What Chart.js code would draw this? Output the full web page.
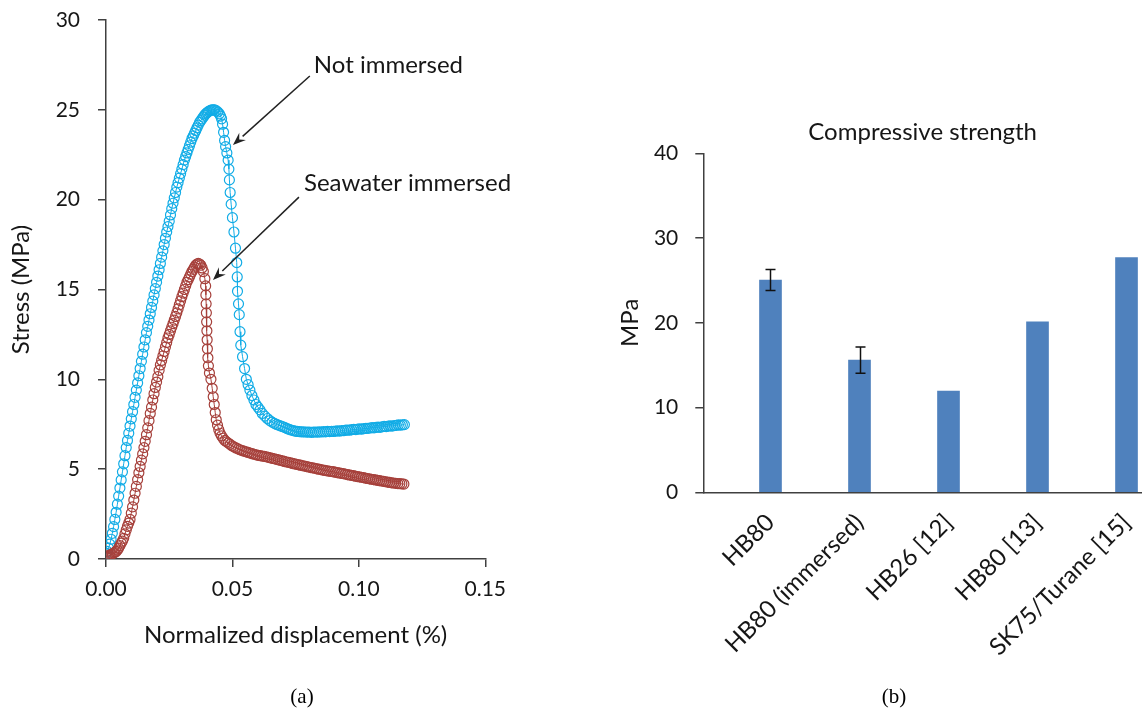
<!DOCTYPE html>
<html>
<head>
<meta charset="utf-8">
<script src="https://cdn.jsdelivr.net/npm/chart.js@4.4.1/dist/chart.umd.min.js"></script>
<style>
  html, body { margin: 0; padding: 0; background: #ffffff; width: 1142px; height: 711px; overflow: hidden; }
  .box { position: absolute; top: 0; }
  .cap { position: absolute; font-family: "Liberation Serif", "Times New Roman", serif; font-size: 21px; color: #000; transform: translate(-50%, -50%); white-space: nowrap; }
</style>
</head>
<body>
<div class="box" style="left:0px;width:560px;height:711px;"><canvas id="chartA" width="560" height="711"></canvas></div>
<div class="box" style="left:560px;width:582px;height:711px;"><canvas id="chartB" width="582" height="711"></canvas></div>
<div class="cap" style="left:302px;top:696px;">(a)</div>
<div class="cap" style="left:894px;top:696px;">(b)</div>
<script>
// ---------- Panel (a): stress vs normalized displacement ----------
const notImmersed = [
[0.0000,0.30],[0.0005,0.42],[0.0010,0.60],[0.0015,0.83],[0.0020,1.10],[0.0025,1.43],[0.0030,1.80],[0.0035,2.20],[0.0040,2.60],[0.0045,3.05],
[0.0050,3.50],[0.0055,3.95],[0.0060,4.40],[0.0065,4.85],[0.0070,5.30],[0.0075,5.75],[0.0080,6.20],[0.0085,6.60],[0.0090,7.00],[0.0095,7.40],
[0.0100,7.80],[0.0105,8.20],[0.0110,8.60],[0.0115,9.00],[0.0120,9.40],[0.0125,9.80],[0.0130,10.20],[0.0135,10.60],[0.0140,11.00],[0.0145,11.40],
[0.0150,11.80],[0.0155,12.20],[0.0160,12.60],[0.0165,12.95],[0.0170,13.30],[0.0175,13.65],[0.0180,14.00],[0.0185,14.35],[0.0190,14.70],[0.0195,15.05],
[0.0200,15.40],[0.0205,15.75],[0.0210,16.10],[0.0215,16.45],[0.0220,16.80],[0.0225,17.15],[0.0230,17.50],[0.0235,17.85],[0.0240,18.20],[0.0245,18.50],
[0.0250,18.80],[0.0255,19.15],[0.0260,19.50],[0.0265,19.80],[0.0270,20.10],[0.0275,20.40],[0.0280,20.70],[0.0285,20.95],[0.0290,21.20],[0.0295,21.45],
[0.0300,21.70],[0.0305,21.95],[0.0310,22.20],[0.0315,22.40],[0.0320,22.60],[0.0325,22.80],[0.0330,23.00],[0.0335,23.20],[0.0340,23.40],[0.0345,23.55],
[0.0350,23.70],[0.0355,23.85],[0.0360,24.00],[0.0365,24.15],[0.0370,24.30],[0.0375,24.40],[0.0380,24.50],[0.0385,24.60],[0.0390,24.70],[0.0395,24.78],
[0.0400,24.85],[0.0405,24.90],[0.0410,24.95],[0.0415,24.98],[0.0420,25.00],[0.0425,25.00],
[0.0430,25.00],[0.0436,24.95],[0.0442,24.88],[0.0448,24.78],[0.0453,24.65],[0.0457,24.50],[0.0461,24.20],[0.0465,23.75],[0.0469,23.30],[0.0473,22.95],
[0.0478,22.60],[0.0483,22.20],[0.0486,21.70],[0.0488,21.10],[0.0491,20.40],[0.0495,19.75],[0.0500,19.00],[0.0506,18.20],[0.0512,17.30],[0.0517,16.50],
[0.0519,15.70],[0.0520,14.90],[0.0524,14.20],[0.0527,13.60],[0.0530,12.65],[0.0533,11.90],[0.0540,11.26],[0.0548,10.60],[0.0555,10.00],[0.0562,9.70],
[0.0569,9.40],[0.0577,9.10],[0.0585,8.85],[0.0593,8.60],[0.0601,8.45],[0.0609,8.30],[0.0618,8.10],[0.0628,7.95],[0.0638,7.82],[0.0648,7.70],
[0.0657,7.62],[0.0666,7.55],[0.0675,7.49],[0.0684,7.44],[0.0692,7.40],[0.0700,7.36],[0.0708,7.31],[0.0716,7.26],[0.0724,7.22],[0.0732,7.18],
[0.0740,7.15],[0.0748,7.12],[0.0756,7.10],[0.0764,7.09],[0.0772,7.08],[0.0780,7.08],
[0.0788,7.07],[0.0796,7.06],[0.0804,7.07],[0.0812,7.05],[0.0820,7.06],[0.0828,7.07],[0.0836,7.06],[0.0844,7.08],[0.0852,7.07],[0.0860,7.09],
[0.0868,7.08],[0.0876,7.10],[0.0884,7.09],[0.0892,7.11],[0.0900,7.10],[0.0908,7.12],[0.0916,7.13],[0.0924,7.12],[0.0932,7.15],[0.0940,7.14],
[0.0948,7.17],[0.0956,7.18],[0.0964,7.17],[0.0972,7.20],[0.0980,7.21],[0.0988,7.20],[0.0996,7.23],[0.1004,7.24],[0.1012,7.23],[0.1020,7.26],
[0.1028,7.27],[0.1036,7.27],[0.1044,7.29],[0.1052,7.31],[0.1060,7.30],[0.1068,7.33],[0.1076,7.34],[0.1084,7.33],[0.1092,7.36],[0.1100,7.38],
[0.1108,7.37],[0.1116,7.40],[0.1124,7.41],[0.1132,7.40],[0.1140,7.43],[0.1148,7.44],[0.1156,7.46],[0.1164,7.45],[0.1172,7.47],[0.1180,7.48]
];

const seawaterImmersed = [
[0.0000,0.13],[0.0005,0.15],[0.0010,0.18],[0.0015,0.21],[0.0020,0.25],[0.0025,0.29],[0.0030,0.33],[0.0035,0.37],[0.0040,0.42],[0.0045,0.50],
[0.0050,0.60],[0.0055,0.75],[0.0060,0.88],[0.0065,1.00],[0.0070,1.15],[0.0075,1.40],[0.0080,1.62],[0.0085,1.82],[0.0090,2.00],[0.0095,2.20],
[0.0100,2.55],[0.0105,2.90],[0.0110,3.28],[0.0115,3.66],[0.0120,4.04],[0.0125,4.42],[0.0130,4.80],[0.0135,5.15],[0.0140,5.50],[0.0145,5.85],
[0.0150,6.20],[0.0155,6.55],[0.0160,6.92],[0.0165,7.30],[0.0170,7.70],[0.0175,8.10],[0.0180,8.45],[0.0185,8.85],[0.0190,9.20],[0.0195,9.55],
[0.0200,9.85],[0.0205,10.15],[0.0210,10.50],[0.0215,10.80],[0.0220,11.05],[0.0225,11.30],[0.0230,11.55],[0.0235,11.80],[0.0240,12.05],[0.0245,12.30],
[0.0250,12.50],[0.0255,12.70],[0.0260,12.90],[0.0265,13.10],[0.0270,13.30],[0.0275,13.50],[0.0280,13.70],[0.0285,13.92],[0.0290,14.15],[0.0295,14.37],
[0.0300,14.60],[0.0305,14.80],[0.0310,15.00],[0.0315,15.20],[0.0320,15.40],[0.0325,15.55],[0.0330,15.70],[0.0335,15.85],[0.0340,16.00],[0.0345,16.12],
[0.0350,16.24],[0.0355,16.35],[0.0360,16.42],[0.0365,16.45],[0.0370,16.42],[0.0375,16.35],[0.0380,16.20],[0.0385,16.00],
[0.0391,15.60],[0.0394,15.20],[0.0395,14.70],[0.0396,14.20],[0.0397,13.70],[0.0398,13.20],[0.0399,12.70],[0.0400,12.20],[0.0401,11.70],[0.0403,11.20],
[0.0405,10.75],[0.0409,10.35],[0.0415,10.00],[0.0420,9.50],[0.0424,9.03],[0.0428,8.60],[0.0432,8.15],[0.0436,7.75],[0.0441,7.45],[0.0446,7.20],
[0.0451,7.00],[0.0457,6.85],[0.0463,6.72],[0.0470,6.60],[0.0477,6.52],[0.0484,6.45],[0.0491,6.38],[0.0498,6.30],
[0.0506,6.24],[0.0514,6.18],[0.0522,6.13],[0.0530,6.08],[0.0538,6.04],[0.0546,6.00],[0.0554,5.97],[0.0562,5.93],[0.0570,5.90],[0.0578,5.86],
[0.0586,5.83],[0.0594,5.80],[0.0602,5.77],[0.0610,5.75],[0.0618,5.73],[0.0626,5.71],[0.0634,5.69],[0.0642,5.66],[0.0650,5.63],[0.0658,5.60],
[0.0666,5.58],[0.0674,5.55],[0.0682,5.52],[0.0690,5.49],[0.0698,5.46],[0.0706,5.43],[0.0714,5.40],[0.0722,5.38],[0.0730,5.35],[0.0738,5.32],
[0.0746,5.29],[0.0754,5.27],[0.0762,5.24],[0.0770,5.22],[0.0778,5.19],[0.0786,5.17],[0.0794,5.14],[0.0802,5.12],[0.0810,5.09],[0.0818,5.07],
[0.0826,5.05],[0.0834,5.02],[0.0842,5.00],[0.0850,4.98],[0.0858,4.95],[0.0866,4.93],[0.0874,4.91],[0.0882,4.89],[0.0890,4.87],[0.0898,4.86],
[0.0906,4.83],[0.0914,4.81],[0.0922,4.79],[0.0930,4.77],[0.0938,4.75],[0.0946,4.73],[0.0954,4.70],[0.0962,4.68],[0.0970,4.66],[0.0978,4.64],
[0.0986,4.61],[0.0994,4.59],[0.1002,4.57],[0.1010,4.55],[0.1018,4.53],[0.1026,4.50],[0.1034,4.48],[0.1042,4.46],[0.1050,4.44],[0.1058,4.42],
[0.1066,4.40],[0.1074,4.38],[0.1082,4.36],[0.1090,4.34],[0.1098,4.32],[0.1106,4.30],[0.1114,4.28],[0.1122,4.26],[0.1130,4.24],[0.1138,4.23],
[0.1146,4.21],[0.1154,4.20],[0.1162,4.19],[0.1170,4.18],[0.1178,4.17]
];

// annotations in data coordinates
const annotationLabels = ["Not immersed", "Seawater immersed"];
const annotationText = [[0.0822, 27.49], [0.0783, 20.92]];
const annotationArrows = [[0.0806, 26.88, 0.0502, 23.04], [0.0763, 20.14, 0.0423, 15.53]];

// ---------- Panel (b): compressive strength ----------
const categories = ["HB80", "HB80 (immersed)", "HB26 [12]", "HB80 [13]", "SK75/Turane [15]"];
const strength = [25.05, 15.6, 11.95, 20.1, 27.7];
const strengthError = [1.25, 1.55, 0, 0, 0];

const TXT = '#161616';
const AXIS = '#404040';
const BLUE = '#12ACE6';
const RED = '#A6403B';
Chart.defaults.font.family = 'Lato, "Open Sans", sans-serif';
Chart.defaults.color = TXT;

const annotationPlugin = {
  id: 'annots',
  afterDraw(chart) {
    const ctx = chart.ctx, xs = chart.scales.x, ys = chart.scales.y;
    ctx.save();
    ctx.font = '24px Lato';
    ctx.fillStyle = TXT;
    ctx.textAlign = 'left';
    ctx.textBaseline = 'middle';
    annotationLabels.forEach((lab, i) => {
      ctx.fillText(lab, xs.getPixelForValue(annotationText[i][0]), ys.getPixelForValue(annotationText[i][1]));
      const a = annotationArrows[i];
      const x1 = xs.getPixelForValue(a[0]), y1 = ys.getPixelForValue(a[1]);
      const x2 = xs.getPixelForValue(a[2]), y2 = ys.getPixelForValue(a[3]);
      const ang = Math.atan2(y2 - y1, x2 - x1);
      const hl = 13, hw = 5;
      const bx = x2 - hl * Math.cos(ang), by = y2 - hl * Math.sin(ang);
      ctx.strokeStyle = '#222';
      ctx.lineWidth = 1.5;
      ctx.beginPath(); ctx.moveTo(x1, y1); ctx.lineTo(bx, by); ctx.stroke();
      ctx.fillStyle = '#222';
      ctx.beginPath();
      ctx.moveTo(x2, y2);
      ctx.lineTo(bx + hw * Math.sin(ang), by - hw * Math.cos(ang));
      ctx.lineTo(bx + 0.35 * hl * Math.cos(ang), by + 0.35 * hl * Math.sin(ang));
      ctx.lineTo(bx - hw * Math.sin(ang), by + hw * Math.cos(ang));
      ctx.closePath(); ctx.fill();
      ctx.fillStyle = TXT;
    });
    ctx.restore();
  }
};

new Chart(document.getElementById('chartA'), {
  type: 'scatter',
  data: {
    datasets: [
      { label: 'Seawater immersed', data: seawaterImmersed.map(p => ({x: p[0], y: p[1]})), order: 0,
        showLine: true, borderColor: RED, borderWidth: 1, pointRadius: 5, pointBorderWidth: 1.2,
        pointBorderColor: RED, pointBackgroundColor: 'rgba(0,0,0,0)' },
      { label: 'Not immersed', data: notImmersed.map(p => ({x: p[0], y: p[1]})), order: 1,
        showLine: true, borderColor: BLUE, borderWidth: 1, pointRadius: 5, pointBorderWidth: 1.2,
        pointBorderColor: BLUE, pointBackgroundColor: 'rgba(0,0,0,0)' }
    ]
  },
  options: {
    responsive: false, animation: false,
    layout: { padding: { left: 0, top: 20, right: 74.7, bottom: 52 } },
    plugins: { legend: { display: false }, tooltip: { enabled: false } },
    scales: {
      x: {
        type: 'linear', min: 0, max: 0.15,
        ticks: { stepSize: 0.05, callback: v => v.toFixed(2), font: { size: 21 }, color: TXT, padding: 10, maxRotation: 0 },
        grid: { display: true, drawOnChartArea: false, drawTicks: true, tickLength: 8, color: AXIS, lineWidth: 1.5 },
        border: { display: true, color: AXIS, width: 1.5 },
        title: { display: true, text: 'Normalized displacement (%)', font: { size: 24 }, color: TXT, padding: { top: 0, bottom: 9.6 } },
        afterFit: s => { s.height = 100; s.paddingLeft = 0; s.paddingRight = 0; }
      },
      y: {
        min: 0, max: 30,
        ticks: { stepSize: 5, font: { size: 21 }, color: TXT, padding: 18 },
        grid: { display: true, drawOnChartArea: false, drawTicks: true, tickLength: 8, color: AXIS, lineWidth: 1.5 },
        border: { display: true, color: AXIS, width: 1.5 },
        title: { display: true, text: 'Stress (MPa)', font: { size: 24 }, color: TXT, padding: { top: 7, bottom: 0 } },
        afterFit: s => { s.width = 106; s.paddingTop = 0; s.paddingBottom = 0; }
      }
    }
  },
  plugins: [annotationPlugin]
});

const errorBarPlugin = {
  id: 'errbars',
  afterDatasetsDraw(chart) {
    const ctx = chart.ctx, xs = chart.scales.x, ys = chart.scales.y;
    ctx.save();
    ctx.strokeStyle = '#111';
    ctx.lineWidth = 1.5;
    strength.forEach((v, i) => {
      const e = strengthError[i];
      if (!e) return;
      const x = Math.round(xs.getPixelForValue(i)) + 0.5;
      const yt = ys.getPixelForValue(v + e), yb = ys.getPixelForValue(v - e);
      ctx.beginPath();
      ctx.moveTo(x, yt); ctx.lineTo(x, yb);
      ctx.moveTo(x - 5, yt); ctx.lineTo(x + 5, yt);
      ctx.moveTo(x - 5, yb); ctx.lineTo(x + 5, yb);
      ctx.stroke();
    });
    ctx.restore();
  }
};

new Chart(document.getElementById('chartB'), {
  type: 'bar',
  data: {
    datasets: [{
      label: 'Compressive strength',
      data: strength.map((v, i) => ({x: i, y: v})),
      backgroundColor: '#4F81BD', borderWidth: 0, barThickness: 22
    }]
  },
  options: {
    responsive: false, animation: false,
    layout: { padding: { left: 0, top: 118.1, right: 0, bottom: 18.7 } },
    plugins: {
      legend: { display: false }, tooltip: { enabled: false },
      title: { display: true, text: 'Compressive strength', fullSize: false, font: { size: 24, weight: 'normal' }, color: TXT, padding: { top: 0, bottom: 6.4 } }
    },
    scales: {
      x: {
        type: 'linear', min: -0.755, max: 4.174, offset: false,
        afterBuildTicks: s => { s.ticks = categories.map((c, i) => ({ value: i })); },
        ticks: { autoSkip: false, minRotation: 45, maxRotation: 45, font: { size: 24 }, color: TXT, padding: 8,
                 callback: v => categories[v] },
        grid: { display: false },
        border: { display: true, color: AXIS, width: 1.5 },
        afterFit: s => { s.height = 200; s.paddingLeft = 0; s.paddingRight = 0; }
      },
      y: {
        min: 0, max: 40,
        ticks: { stepSize: 10, font: { size: 21 }, color: TXT, padding: 17 },
        grid: { display: true, drawOnChartArea: false, drawTicks: true, tickLength: 8, color: AXIS, lineWidth: 1.5 },
        border: { display: true, color: AXIS, width: 1.5 },
        title: { display: true, text: 'MPa', font: { size: 24 }, color: TXT, padding: { top: 56.2, bottom: 0 } },
        afterFit: s => { s.width = 143.3; s.paddingTop = 0; s.paddingBottom = 0; }
      }
    }
  },
  plugins: [errorBarPlugin]
});
</script>
</body>
</html>
